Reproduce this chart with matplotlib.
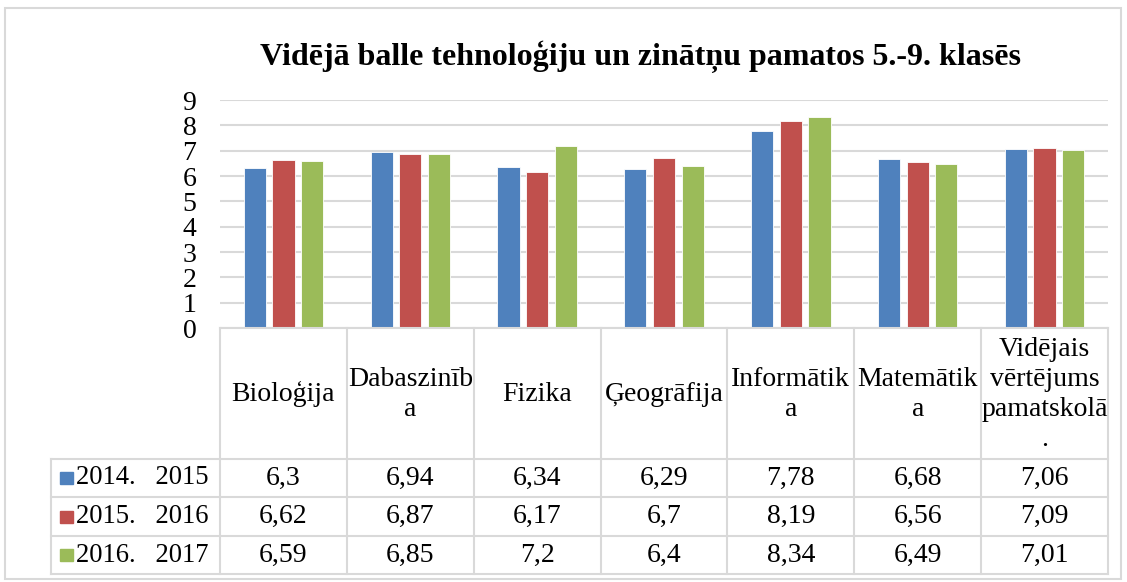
import matplotlib
matplotlib.use("Agg")
import matplotlib.pyplot as plt
from matplotlib.lines import Line2D
from matplotlib.patches import Rectangle

plt.rcParams['font.family'] = ['Liberation Serif', 'DejaVu Serif']

title = "Vidējā balle tehnoloģiju un zinātņu pamatos 5.-9. klasēs"
categories = ["Bioloģija", "Dabaszinīb\na", "Fizika", "Ģeogrāfija",
              "Informātik\na", "Matemātik\na", "Vidējais\nvērtējums\npamatskolā\n."]
series_names = ["2014.   2015", "2015.   2016", "2016.   2017"]
values_2014_2015 = [6.3, 6.94, 6.34, 6.29, 7.78, 6.68, 7.06]
values_2015_2016 = [6.62, 6.87, 6.17, 6.7, 8.19, 6.56, 7.09]
values_2016_2017 = [6.59, 6.85, 7.2, 6.4, 8.34, 6.49, 7.01]
series_values = [values_2014_2015, values_2015_2016, values_2016_2017]
colors = ["#4F81BD", "#C0504D", "#9BBB59"]
yticks = [0, 1, 2, 3, 4, 5, 6, 7, 8, 9]

W, H = 1127, 582
fig = plt.figure(figsize=(W / 100, H / 100), dpi=100)

def fx(px):
    return px / W

def fy(py):
    return 1 - py / H

grid_c = "#D9D9D9"
fs = 20

# outer frame
fig.add_artist(Rectangle((fx(5), fy(579)), fx(1121) - fx(5), fy(8) - fy(579),
                         transform=fig.transFigure, fill=False, edgecolor=grid_c, lw=1.5))

left, right, top, bottom = 220, 1108, 100, 328
ax = fig.add_axes([fx(left), fy(bottom), fx(right) - fx(left), fy(top) - fy(bottom)])
n = len(categories)
ax.set_xlim(-0.5, n - 0.5)
ax.set_ylim(0, 9)
bw = 0.175
offs = [-0.226, 0.0, 0.226]
for vals, c, o in zip(series_values, colors, offs):
    ax.bar([i + o for i in range(n)], vals, width=bw, color=c,
           edgecolor="white", linewidth=0.6, zorder=3)
ax.set_yticks(yticks)
ax.set_yticklabels([str(t) for t in yticks], fontsize=fs)
ax.tick_params(axis='y', length=0, pad=17)
ax.set_xticks([])
ax.yaxis.grid(True, color=grid_c, linewidth=1.5, zorder=0)
for s in ax.spines.values():
    s.set_visible(False)

fig.text(0.568, fy(57), title, ha='center', va='center', fontsize=23, fontweight='bold')

# table
fig.canvas.draw()
to_fig = fig.transFigure.inverted()

def data_x_to_fig(x):
    return to_fig.transform(ax.transData.transform((x, 0)))[0]

row_edges = [328, 459, 497, 536, 574]
legend_left = 51
x_edges = [data_x_to_fig(i - 0.5) for i in range(n + 1)]
xr = x_edges[-1]

def hline(y_px, x0, x1):
    fig.add_artist(Line2D([x0, x1], [fy(y_px), fy(y_px)], transform=fig.transFigure,
                          color=grid_c, lw=1.5))

def vline(x, y0_px, y1_px):
    fig.add_artist(Line2D([x, x], [fy(y0_px), fy(y1_px)], transform=fig.transFigure,
                          color=grid_c, lw=1.5))

hline(row_edges[0], x_edges[0], xr)
for y in row_edges[1:]:
    hline(y, fx(legend_left), xr)
for x in x_edges:
    vline(x, row_edges[0], row_edges[-1])
vline(fx(legend_left), row_edges[1], row_edges[-1])

# header
hc = (row_edges[0] + row_edges[1]) / 2
for i, cat in enumerate(categories):
    fig.text(data_x_to_fig(i), fy(hc + 1), cat, ha='center', va='center',
             fontsize=fs, linespacing=1.25)

# data rows
for r, (name, vals, c) in enumerate(zip(series_names, series_values, colors)):
    yc = (row_edges[r + 1] + row_edges[r + 2]) / 2
    fig.add_artist(Rectangle((fx(60), fy(yc + 6)), fx(13), fy(0) - fy(12),
                             transform=fig.transFigure, color=c))
    fig.text(fx(76), fy(yc), name, ha='left', va='center', fontsize=19.2)
    for i, v in enumerate(vals):
        fig.text(data_x_to_fig(i), fy(yc), f"{v:g}".replace('.', ','),
                 ha='center', va='center', fontsize=fs)

fig.savefig("out.png", dpi=100)
